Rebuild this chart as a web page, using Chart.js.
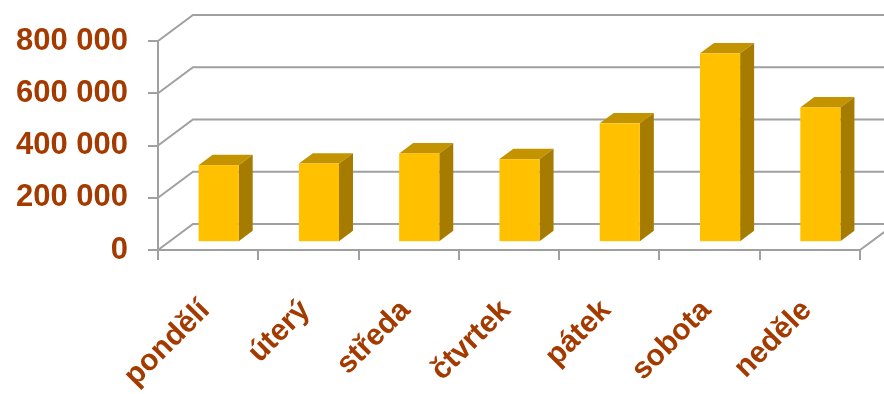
<!DOCTYPE html>
<html lang="cs">
<head>
<meta charset="utf-8">
<title>Návštěvnost podle dnů</title>
<script src="https://cdn.jsdelivr.net/npm/chart.js@4.4.1/dist/chart.umd.min.js"></script>
<style>
  html, body { margin: 0; padding: 0; background: #fff; }
  canvas { display: block; }
</style>
</head>
<body>
<canvas id="graf" width="884" height="394"></canvas>
<script>
const dny = ['pondělí', 'úterý', 'středa', 'čtvrtek', 'pátek', 'sobota', 'neděle'];
const hodnoty = [295000, 301000, 340000, 318000, 455000, 723000, 516000];
const osaY = [0, 200000, 400000, 600000, 800000];

// posun zadní stěny (3D pohled)
const HLOUBKA_X = 35;
const HLOUBKA_Y = 26;
const CARA = '#a0a0a0';
const TEXT = '#a33b00';

function formatCislo(v) {
  return String(v).replace(/\B(?=(\d{3})+(?!\d))/g, ' ');
}

// zadní stěna a podlaha
const zadniStena = {
  id: 'zadniStena',
  beforeDatasetsDraw(chart) {
    const ctx = chart.ctx;
    const { left, right, bottom } = chart.chartArea;
    const y = chart.scales.y;
    ctx.save();
    ctx.strokeStyle = CARA;
    ctx.lineWidth = 2;
    ctx.beginPath();
    osaY.forEach(v => {
      const py = y.getPixelForValue(v);
      ctx.moveTo(left, py);
      ctx.lineTo(left + HLOUBKA_X, py - HLOUBKA_Y);
      ctx.lineTo(chart.width + 5, py - HLOUBKA_Y);
    });
    ctx.moveTo(right, bottom);
    ctx.lineTo(right + HLOUBKA_X, bottom - HLOUBKA_Y);
    ctx.stroke();
    ctx.restore();
  }
};

// sloupce jako kvádry
const kvadry = {
  id: 'kvadry',
  afterDatasetsDraw(chart) {
    const ctx = chart.ctx;
    const meta = chart.getDatasetMeta(0);
    const fx = 0.3 * HLOUBKA_X, fy = 0.3 * HLOUBKA_Y;
    const dx = 0.4 * HLOUBKA_X, dy = 0.4 * HLOUBKA_Y;
    ctx.save();
    meta.data.forEach(bar => {
      const { x, y, base, width } = bar.getProps(['x', 'y', 'base', 'width'], true);
      const l = x - width / 2 + fx, r = x + width / 2 + fx;
      const t = y - fy, b = base - fy;

      // horní plocha
      ctx.fillStyle = '#c49300';
      ctx.beginPath();
      ctx.moveTo(l, t);
      ctx.lineTo(l + dx, t - dy);
      ctx.lineTo(r + dx, t - dy);
      ctx.lineTo(r, t);
      ctx.closePath();
      ctx.fill();

      // boční plocha
      ctx.fillStyle = '#a67c00';
      ctx.beginPath();
      ctx.moveTo(r, t);
      ctx.lineTo(r + dx, t - dy);
      ctx.lineTo(r + dx, b - dy);
      ctx.lineTo(r, b);
      ctx.closePath();
      ctx.fill();

      // přední plocha
      ctx.fillStyle = '#ffc000';
      ctx.fillRect(l, t, r - l, b - t);
    });
    ctx.restore();
  }
};

new Chart(document.getElementById('graf'), {
  type: 'bar',
  data: {
    labels: dny,
    datasets: [{
      label: 'Počet',
      data: hodnoty,
      backgroundColor: 'rgba(0,0,0,0)',
      barPercentage: 0.4,
      categoryPercentage: 1
    }]
  },
  options: {
    responsive: false,
    animation: false,
    layout: { padding: { top: 41, right: 24, left: 0, bottom: 0 } },
    plugins: {
      legend: { display: false },
      tooltip: { enabled: false }
    },
    scales: {
      x: {
        grid: { drawOnChartArea: false, color: CARA, lineWidth: 2, tickLength: 10 },
        border: { color: CARA, width: 2 },
        ticks: {
          color: TEXT,
          font: { family: 'Liberation Sans, Arial, sans-serif', size: 30, weight: 'bold' },
          minRotation: 45,
          maxRotation: 45,
          autoSkip: false,
          padding: 33,
          labelOffset: -3
        },
        afterFit: s => { s.height = 144; }
      },
      y: {
        min: 0,
        max: 800000,
        afterBuildTicks: s => { s.ticks = osaY.map(v => ({ value: v })); },
        grid: { drawOnChartArea: false, color: CARA, lineWidth: 2, tickLength: 10 },
        border: { color: CARA, width: 2 },
        ticks: {
          color: TEXT,
          font: { family: 'Liberation Sans, Arial, sans-serif', size: 31, weight: 'bold' },
          padding: 20,
          callback: v => formatCislo(v)
        },
        afterFit: s => { s.width = 158; }
      }
    }
  },
  plugins: [zadniStena, kvadry]
});
</script>
</body>
</html>
